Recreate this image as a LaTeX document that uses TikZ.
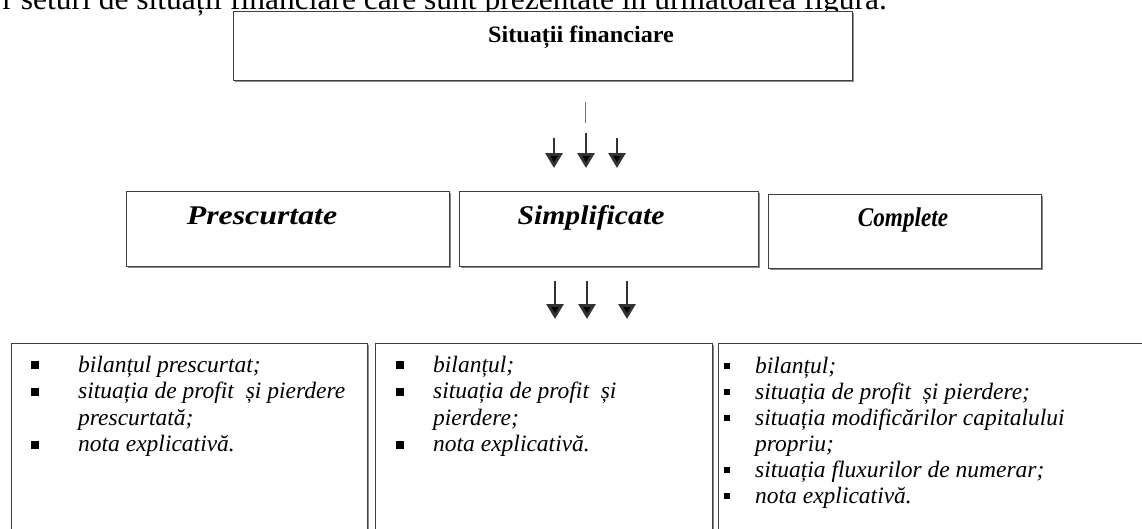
\documentclass[tikz,border=0pt]{standalone}
\usepackage{fontspec}
\usepackage{graphicx}
\setmainfont{Liberation Serif}
\usetikzlibrary{arrows.meta,shadows}
\tikzset{
  x=1pt, y=-1pt,
  box/.style={draw=black!75, line width=0.9pt, fill=white, inner sep=0pt, outer sep=0pt,
    anchor=north west,
    drop shadow={shadow xshift=1.6pt, shadow yshift=-1.6pt, fill=black!45, opacity=1}},
  arr/.style={draw=black!80, line width=2.8pt, -{Triangle[width=17pt,length=15pt,fill=black]}},
  stub/.style={draw=black!55, line width=0.8pt},
  lst/.style={anchor=base west, inner sep=0pt, font=\fontsize{23.5}{26}\selectfont\itshape},
  bul/.style={fill=black, inner sep=0pt, minimum size=8pt},
  bulr/.style={fill=black, inner sep=0pt, minimum size=6.5pt},
  hdr/.style={anchor=base, inner sep=0pt, font=\fontsize{27}{30}\selectfont\bfseries\itshape},
  ttl/.style={anchor=base, inner sep=0pt, font=\fontsize{23.5}{26}\selectfont\bfseries},
  intro/.style={anchor=base east, inner sep=0pt, font=\fontsize{31.5}{34}\selectfont}
}
\begin{document}
\begin{tikzpicture}
\useasboundingbox (0,0) rectangle (1142,528);

% cut-off sentence above the figure
\node[intro] (introtext) at (887,9) {r seturi de situații financiare care sunt prezentate în următoarea figură.};

% top box
\node[box, minimum width=619pt, minimum height=69pt] (top) at (233,11) {};
\node[ttl] (toptxt) at (581,42) {\scalebox{1.03}[1]{Situații financiare}};

% stub line and arrows
\coordinate (s1) at (585,102);
\coordinate (s2) at (585,123);
\draw[stub] (s1) -- (s2);
\coordinate (a1s) at (554,138); \coordinate (a1e) at (554,168);
\coordinate (a2s) at (586,133); \coordinate (a2e) at (586,168);
\coordinate (a3s) at (617,138); \coordinate (a3e) at (617,168);
\draw[arr] (a1s) -- (a1e);
\draw[arr] (a2s) -- (a2e);
\draw[arr] (a3s) -- (a3e);

% middle boxes
\node[box, minimum width=323pt, minimum height=75pt] (pres) at (126,191) {};
\node[box, minimum width=299pt, minimum height=75pt] (simp) at (459,191) {};
\node[box, minimum width=273pt, minimum height=74pt] (comp) at (768,194) {};
\node[hdr] (prestxt) at (262,224) {\scalebox{1.18}[1]{Prescurtate}};
\node[hdr] (simptxt) at (591,224) {\scalebox{1.1}[1]{Simplificate}};
\node[hdr] (comptxt) at (903,226) {\scalebox{0.86}[1]{Complete}};

% lower arrows
\coordinate (b1s) at (555,281); \coordinate (b1e) at (555,319);
\coordinate (b2s) at (587,281); \coordinate (b2e) at (587,319);
\coordinate (b3s) at (627,281); \coordinate (b3e) at (627,319);
\draw[arr] (b1s) -- (b1e);
\draw[arr] (b2s) -- (b2e);
\draw[arr] (b3s) -- (b3e);

% bottom boxes
\node[box, minimum width=356pt, minimum height=200pt] (bl) at (11,343) {};
\node[box, minimum width=337pt, minimum height=200pt] (bm) at (375,343) {};
\node[box, minimum width=440pt, minimum height=200pt] (br) at (718,343) {};

% left list
\node[bul] (lb1) at (35,365) {};
\node[bul] (lb2) at (35,391.5) {};
\node[bul] (lb3) at (35,444.5) {};
\node[lst] (l1) at (78,372) {bilanțul prescurtat;};
\node[lst] (l2) at (78,398.5) {situația de profit \ și pierdere};
\node[lst] (l3) at (78,425) {prescurtată;};
\node[lst] (l4) at (78,451.5) {nota explicativă.};

% middle list
\node[bul] (mb1) at (400,365) {};
\node[bul] (mb2) at (400,391.5) {};
\node[bul] (mb3) at (400,444.5) {};
\node[lst] (m1) at (433,372) {bilanțul;};
\node[lst] (m2) at (433,398.5) {situația de profit \ și};
\node[lst] (m3) at (433,425) {pierdere;};
\node[lst] (m4) at (433,451.5) {nota explicativă.};

% right list
\node[bulr] (rb1) at (727,366) {};
\node[bulr] (rb2) at (727,392) {};
\node[bulr] (rb3) at (727,418) {};
\node[bulr] (rb4) at (727,470) {};
\node[bulr] (rb5) at (727,496) {};
\node[lst] (r1) at (755,373) {bilanțul;};
\node[lst] (r2) at (755,399) {situația de profit \ și pierdere;};
\node[lst] (r3) at (755,425) {situația modificărilor capitalului};
\node[lst] (r4) at (755,451) {propriu;};
\node[lst] (r5) at (755,477) {situația fluxurilor de numerar;};
\node[lst] (r6) at (755,503) {nota explicativă.};
\end{tikzpicture}
\end{document}
